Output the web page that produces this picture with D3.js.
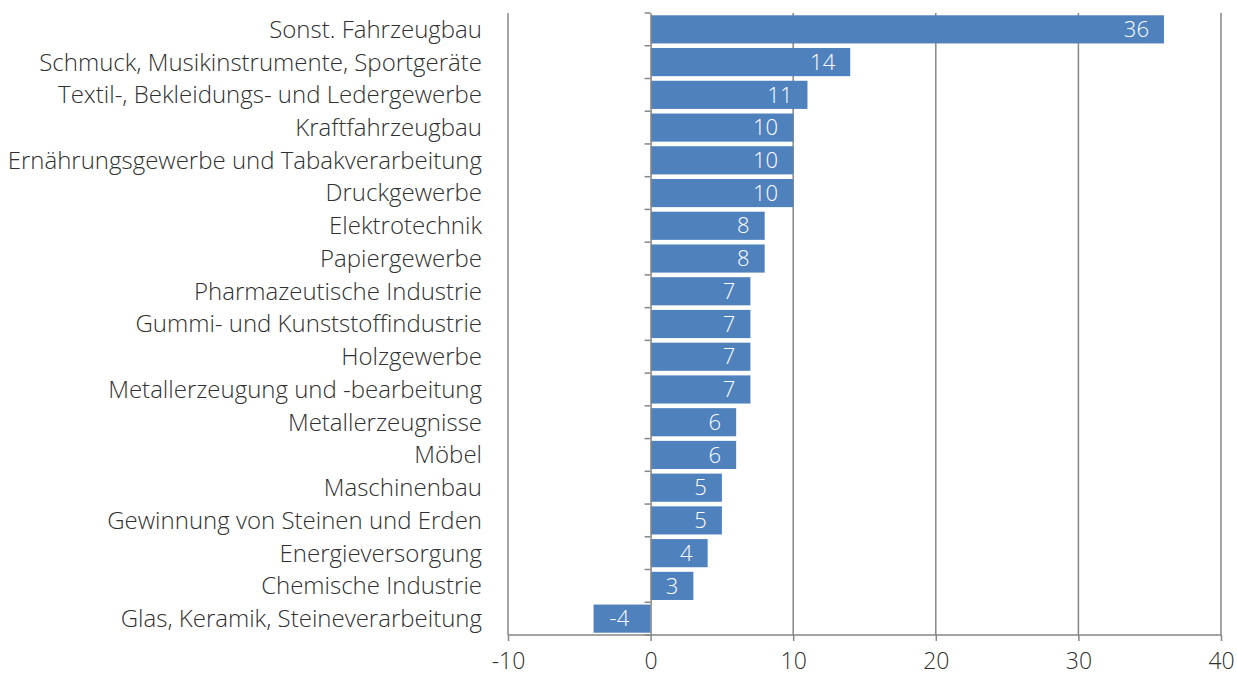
<!DOCTYPE html>
<html>
<head>
<meta charset="utf-8">
<script src="https://cdn.jsdelivr.net/npm/d3@7"></script>
<style>
  body { margin: 0; background: #fff; }
  svg text { font-family: "Open Sans", "Lato", sans-serif; font-weight: 300; }
</style>
</head>
<body>
<svg id="chart"></svg>
<script>
const categories = [
    "Sonst. Fahrzeugbau",
    "Schmuck, Musikinstrumente, Sportgeräte",
    "Textil-, Bekleidungs- und Ledergewerbe",
    "Kraftfahrzeugbau",
    "Ernährungsgewerbe und Tabakverarbeitung",
    "Druckgewerbe",
    "Elektrotechnik",
    "Papiergewerbe",
    "Pharmazeutische Industrie",
    "Gummi- und Kunststoffindustrie",
    "Holzgewerbe",
    "Metallerzeugung und -bearbeitung",
    "Metallerzeugnisse",
    "Möbel",
    "Maschinenbau",
    "Gewinnung von Steinen und Erden",
    "Energieversorgung",
    "Chemische Industrie",
    "Glas, Keramik, Steineverarbeitung"
];
const values = [36, 14, 11, 10, 10, 10, 8, 8, 7, 7, 7, 7, 6, 6, 5, 5, 4, 3, -4];
const xTicks = [-10, 0, 10, 20, 30, 40];

const width = 1237, height = 679;
const svg = d3.select("#chart").attr("width", width).attr("height", height);

const x = d3.scaleLinear().domain([-10, 40]).range([508, 1221]);
const y = d3.scaleBand().domain(categories).range([13, 635]).paddingInner(0.14).paddingOuter(0.07);

const gridColor = "#868686";
const textColor = "#303030";

// vertical gridlines
svg.append("g")
    .selectAll("line")
    .data(xTicks.filter(t => t !== 0))
    .enter().append("line")
    .attr("x1", d => x(d)).attr("x2", d => x(d))
    .attr("y1", 13).attr("y2", 635)
    .attr("stroke", gridColor).attr("stroke-width", 1.5);

// bars
svg.append("g")
    .selectAll("rect")
    .data(values)
    .enter().append("rect")
    .attr("x", d => x(Math.min(0, d)))
    .attr("width", d => Math.abs(x(d) - x(0)))
    .attr("y", (d, i) => y(categories[i]))
    .attr("height", y.bandwidth())
    .attr("fill", "#4f81bd");

// category axis at zero
const yAxis = svg.append("g")
    .attr("transform", `translate(${x(0)},0)`)
    .call(d3.axisLeft(y).tickSize(0).tickFormat(""));
yAxis.select(".domain").attr("stroke", gridColor).attr("stroke-width", 1.5);
const step = y.step();
yAxis.selectAll(".cat-tick")
    .data(d3.range(categories.length + 1))
    .enter().append("line")
    .attr("class", "cat-tick")
    .attr("x1", -6).attr("x2", 0)
    .attr("y1", i => 13 + i * step).attr("y2", i => 13 + i * step)
    .attr("stroke", gridColor).attr("stroke-width", 1.5);

// category labels
svg.append("g")
    .selectAll("text")
    .data(categories)
    .enter().append("text")
    .attr("x", 482)
    .attr("y", d => y(d) + y.bandwidth() / 2)
    .attr("dy", "0.35em")
    .attr("text-anchor", "end")
    .attr("fill", textColor)
    .style("font-size", "24px")
    .text(d => d);

// bottom value axis
const xAxis = svg.append("g")
    .attr("transform", "translate(0,635)")
    .call(d3.axisBottom(x).tickValues(xTicks).tickSize(6).tickPadding(12).tickFormat(d => String(d)));
xAxis.select(".domain").attr("stroke", gridColor).attr("stroke-width", 1.5).attr("d", `M${x(-10)},0H${x(40)}`);
xAxis.selectAll(".tick line").attr("stroke", gridColor).attr("stroke-width", 1.5);
xAxis.selectAll(".tick text")
    .attr("fill", textColor)
    .style("font-size", "23px")
    .style("font-family", "'Open Sans', sans-serif")
    .style("font-weight", 300);

// value labels
svg.append("g")
    .selectAll("text")
    .data(values)
    .enter().append("text")
    .attr("x", d => d >= 0 ? x(d) - 15 : x(d) + 16)
    .attr("y", (d, i) => y(categories[i]) + y.bandwidth() / 2)
    .attr("dy", "0.35em")
    .attr("text-anchor", d => d >= 0 ? "end" : "start")
    .attr("fill", "#ffffff")
    .style("font-size", "22px")
    .text(d => String(d));
</script>
</body>
</html>
